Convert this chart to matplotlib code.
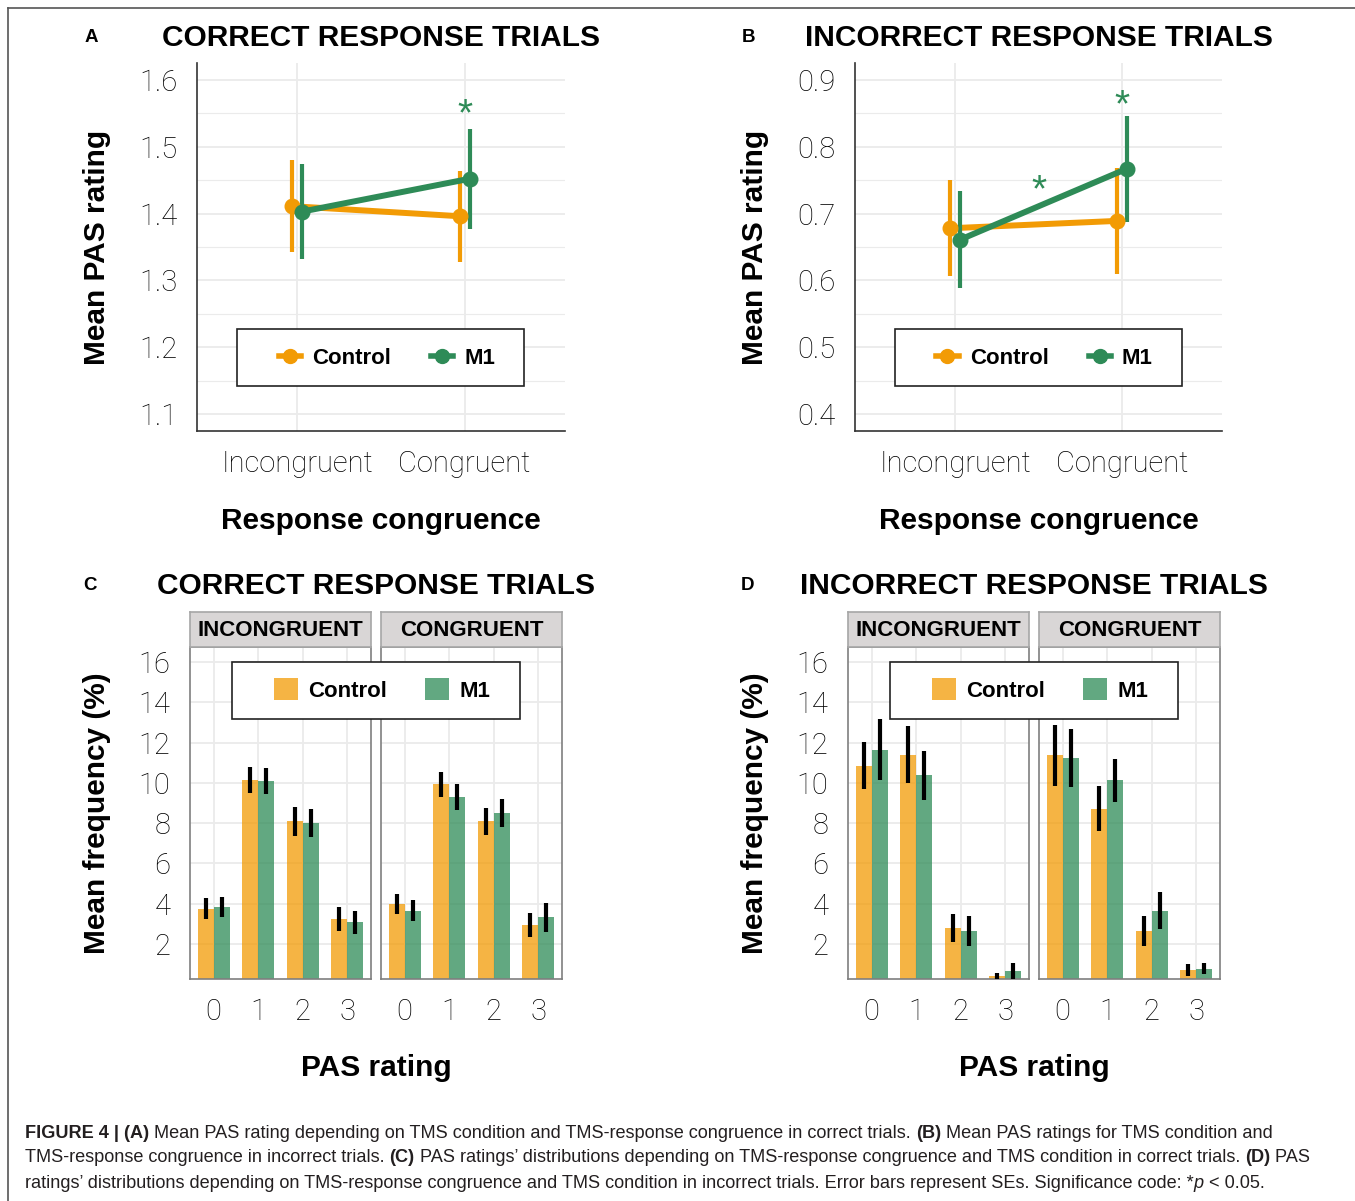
import matplotlib.pyplot as plt
import numpy as np
from matplotlib.lines import Line2D
from matplotlib.patches import Patch, Rectangle
from matplotlib.font_manager import FontProperties

plt.rcParams['font.family'] = ['Liberation Sans', 'DejaVu Sans']

W, H = 1355, 1201
ORANGE = '#F29B05'
GREEN = '#2E8B57'
GRID = '#EBEBEB'

groups = ['Control', 'M1']
congruence = ['Incongruent', 'Congruent']
strips = ['INCONGRUENT', 'CONGRUENT']
pas = [0, 1, 2, 3]

# A: correct trials, mean PAS rating (mean, SE)
a_control = [1.411, 1.396]
a_control_se = [0.069, 0.068]
a_m1 = [1.403, 1.452]
a_m1_se = [0.071, 0.075]

# B: incorrect trials
b_control = [0.678, 0.689]
b_control_se = [0.072, 0.079]
b_m1 = [0.661, 0.767]
b_m1_se = [0.072, 0.079]

# C: correct trials, PAS distribution (%)
c_inc_control = [3.75, 10.12, 8.08, 3.22]
c_inc_control_se = [0.52, 0.65, 0.70, 0.59]
c_inc_m1 = [3.82, 10.09, 8.00, 3.07]
c_inc_m1_se = [0.50, 0.67, 0.71, 0.58]
c_con_control = [3.97, 9.94, 8.08, 2.92]
c_con_control_se = [0.48, 0.62, 0.68, 0.60]
c_con_m1 = [3.65, 9.28, 8.50, 3.32]
c_con_m1_se = [0.52, 0.65, 0.70, 0.72]

# D: incorrect trials
d_inc_control = [10.86, 11.40, 2.77, 0.38]
d_inc_control_se = [1.17, 1.43, 0.69, 0.15]
d_inc_m1 = [11.65, 10.37, 2.64, 0.63]
d_inc_m1_se = [1.50, 1.20, 0.75, 0.40]
d_con_control = [11.37, 8.72, 2.64, 0.70]
d_con_control_se = [1.52, 1.10, 0.73, 0.30]
d_con_m1 = [11.24, 10.12, 3.65, 0.76]
d_con_m1_se = [1.43, 1.05, 0.90, 0.27]

fig = plt.figure(figsize=(W / 100, H / 100), dpi=100)
tickfont = FontProperties(family='Roboto', weight='light', size=21)


def px_axes(x0, y0, x1, y1, **kw):
    return fig.add_axes([x0 / W, 1 - y1 / H, (x1 - x0) / W, (y1 - y0) / H], **kw)


def fx(x):
    return x / W


def fy(y):
    return 1 - y / H


def box(x0, y0, x1, y1):
    # white legend box drawn above the panels, under the legend entries
    fig.patches.append(Rectangle((fx(x0), fy(y1)), (x1 - x0) / W, (y1 - y0) / H,
                                 transform=fig.transFigure, facecolor='white',
                                 edgecolor='#222222', lw=1.2, zorder=4))


# outer frame
fig.add_artist(Line2D([fx(8), fx(8)], [fy(8), 0], color='#555555', lw=1.2))
fig.add_artist(Line2D([fx(8), 1], [fy(8), fy(8)], color='#555555', lw=1.2))


def line_panel(x0, x1, ctrl, ctrl_se, m1, m1_se, ylo, yhi, letter, title, stars):
    ax = px_axes(x0, 63, x1, 431)
    x = np.arange(1, 3)
    for mean, se, color, off in [(ctrl, ctrl_se, ORANGE, -0.03), (m1, m1_se, GREEN, 0.03)]:
        mean = np.array(mean)
        se = np.array(se)
        ax.plot(x + off, mean, color=color, lw=4.3, zorder=3, solid_capstyle='butt')
        ax.vlines(x + off, mean - se, mean + se, color=color, lw=3, zorder=3)
        ax.plot(x + off, mean, 'o', color=color, ms=10.5, zorder=4)
    for sx, sy in stars:
        ax.annotate('*', (sx, sy), xytext=(0, -15), textcoords='offset points',
                    ha='center', va='baseline', color=GREEN, fontsize=28)
    ax.set_xlim(0.4, 2.6)
    step = 0.1
    ax.set_ylim(ylo - 0.025, yhi + 0.025)
    ax.set_yticks(np.round(np.arange(ylo, yhi + 0.001, step), 2))
    ax.set_yticks(np.round(np.arange(ylo + 0.05, yhi, step), 2), minor=True)
    ax.set_xticks(x)
    ax.set_xticklabels(congruence)
    ax.grid(True, which='major', color=GRID, lw=1.3)
    ax.grid(True, which='minor', axis='y', color=GRID, lw=0.8)
    ax.set_axisbelow(True)
    ax.tick_params(which='both', length=0, pad=14, colors='black')
    for lab in ax.get_xticklabels() + ax.get_yticklabels():
        lab.set_fontproperties(tickfont)
    for s in ['top', 'right']:
        ax.spines[s].set_visible(False)
    for s in ['left', 'bottom']:
        ax.spines[s].set_color('#333333')
        ax.spines[s].set_linewidth(1.2)
    cx = (x0 + x1) / 2
    fig.text(fx(cx), fy(38), title, ha='center', va='center', fontsize=21.5, fontweight='bold')
    fig.text(fx(x0 - 106), fy(37), letter, ha='center', va='center', fontsize=13.5, fontweight='bold')
    fig.text(fx(x0 - 100), fy(247), 'Mean PAS rating', rotation=90, ha='center', va='center',
             fontsize=21.5, fontweight='bold')
    fig.text(fx(cx), fy(521), 'Response congruence', ha='center', va='center',
             fontsize=21.5, fontweight='bold')
    handles = [Line2D([], [], color=ORANGE, marker='o', lw=4, ms=10),
               Line2D([], [], color=GREEN, marker='o', lw=4, ms=10)]
    fig.legend(handles, groups, loc='center', bbox_to_anchor=(fx(cx + 6), fy(358)),
               ncol=2, frameon=False, handlelength=1.0, handletextpad=0.5,
               columnspacing=1.8, prop={'weight': 'bold', 'size': 16})
    box(x0 + 40, 329, x0 + 327, 386)


line_panel(197, 565, a_control, a_control_se, a_m1, a_m1_se, 1.1, 1.6, 'A',
           'CORRECT RESPONSE TRIALS', [(2.0, 1.563)])
line_panel(855, 1222, b_control, b_control_se, b_m1, b_m1_se, 0.4, 0.9, 'B',
           'INCORRECT RESPONSE TRIALS', [(2.0, 0.877), (1.5, 0.75)])


def bar_panel(x0, inc, con, letter, title):
    facets = [(x0, x0 + 181), (x0 + 191, x0 + 372)]
    data = [inc, con]
    for i, (fa, fb) in enumerate(facets):
        ax = px_axes(fa, 647, fb, 979)
        ctrl, ctrl_se, m1, m1_se = [np.array(v) for v in data[i]]
        xs = np.array(pas)
        ax.bar(xs - 0.18, ctrl, width=0.36, color=ORANGE, alpha=0.75, zorder=2)
        ax.bar(xs + 0.18, m1, width=0.36, color=GREEN, alpha=0.75, zorder=2)
        ax.vlines(xs - 0.18, ctrl - ctrl_se, ctrl + ctrl_se, color='black', lw=3, zorder=3)
        ax.vlines(xs + 0.18, m1 - m1_se, m1 + m1_se, color='black', lw=3, zorder=3)
        ax.set_xlim(-0.53, 3.53)
        ax.set_ylim(0.25, 16.75)
        ax.set_yticks(np.arange(2, 17, 2))
        ax.set_xticks(xs)
        ax.grid(True, color=GRID, lw=1.3)
        ax.set_axisbelow(True)
        ax.tick_params(length=0, pad=14, colors='black')
        if i == 1:
            ax.set_yticklabels([])
        for lab in ax.get_xticklabels() + ax.get_yticklabels():
            lab.set_fontproperties(tickfont)
        for s in ax.spines.values():
            s.set_color('#7F7F7F')
            s.set_linewidth(1.2)
        st = px_axes(fa, 612, fb, 647, facecolor='#D9D6D6')
        st.set_xticks([])
        st.set_yticks([])
        for s in st.spines.values():
            s.set_color('#A6A6A6')
            s.set_linewidth(1.2)
        st.text(0.5, 0.47, strips[i], transform=st.transAxes, ha='center', va='center',
                fontsize=16, fontweight='bold')
    cx = (x0 + x0 + 372) / 2
    fig.text(fx(cx), fy(586), title, ha='center', va='center', fontsize=21.5, fontweight='bold')
    fig.text(fx(x0 - 100), fy(585), letter, ha='center', va='center', fontsize=13.5, fontweight='bold')
    fig.text(fx(x0 - 93), fy(813), 'Mean frequency (%)', rotation=90, ha='center', va='center',
             fontsize=21.5, fontweight='bold')
    fig.text(fx(cx), fy(1068), 'PAS rating', ha='center', va='center',
             fontsize=21.5, fontweight='bold')
    handles = [Patch(facecolor=ORANGE, alpha=0.75), Patch(facecolor=GREEN, alpha=0.75)]
    fig.legend(handles, groups, loc='center', bbox_to_anchor=(fx(cx + 6), fy(690)),
               ncol=2, frameon=False, handlelength=1.1, handleheight=1.1, handletextpad=0.45,
               columnspacing=1.7, prop={'weight': 'bold', 'size': 16})
    box(x0 + 42, 662, x0 + 330, 719)


bar_panel(190, (c_inc_control, c_inc_control_se, c_inc_m1, c_inc_m1_se),
          (c_con_control, c_con_control_se, c_con_m1, c_con_m1_se), 'C', 'CORRECT RESPONSE TRIALS')
bar_panel(848, (d_inc_control, d_inc_control_se, d_inc_m1, d_inc_m1_se),
          (d_con_control, d_con_control_se, d_con_m1, d_con_m1_se), 'D', 'INCORRECT RESPONSE TRIALS')

# caption with mixed bold / italic runs
caption = [
    [('FIGURE 4 | (A)', 'bold', 'normal'),
     (' Mean PAS rating depending on TMS condition and TMS-response congruence in correct trials. ', 'normal', 'normal'),
     ('(B)', 'bold', 'normal'),
     (' Mean PAS ratings for TMS condition and', 'normal', 'normal')],
    [('TMS-response congruence in incorrect trials. ', 'normal', 'normal'),
     ('(C)', 'bold', 'normal'),
     (' PAS ratings\u2019 distributions depending on TMS-response congruence and TMS condition in correct trials. ', 'normal', 'normal'),
     ('(D)', 'bold', 'normal'),
     (' PAS', 'normal', 'normal')],
    [('ratings\u2019 distributions depending on TMS-response congruence and TMS condition in incorrect trials. Error bars represent SEs. Significance code: *', 'normal', 'normal'),
     ('p', 'normal', 'italic'),
     (' < 0.05.', 'normal', 'normal')],
]
cap_y = [1133, 1158, 1184]
cap_size = 13.1
renderer = fig.canvas.get_renderer()


def text_width(s, weight, style):
    a = fig.text(0, 0, '|' + s + '|', fontsize=cap_size, fontweight=weight, fontstyle=style)
    b = fig.text(0, 0, '||', fontsize=cap_size, fontweight=weight, fontstyle=style)
    w = a.get_window_extent(renderer).width - b.get_window_extent(renderer).width
    a.remove()
    b.remove()
    return w


for row, yy in zip(caption, cap_y):
    xpos = 25
    for s, weight, style in row:
        fig.text(fx(xpos), fy(yy), s, ha='left', va='center', fontsize=cap_size,
                 fontweight=weight, fontstyle=style, color='#231F20')
        xpos += text_width(s, weight, style)

fig.savefig('out.png', dpi=100)
